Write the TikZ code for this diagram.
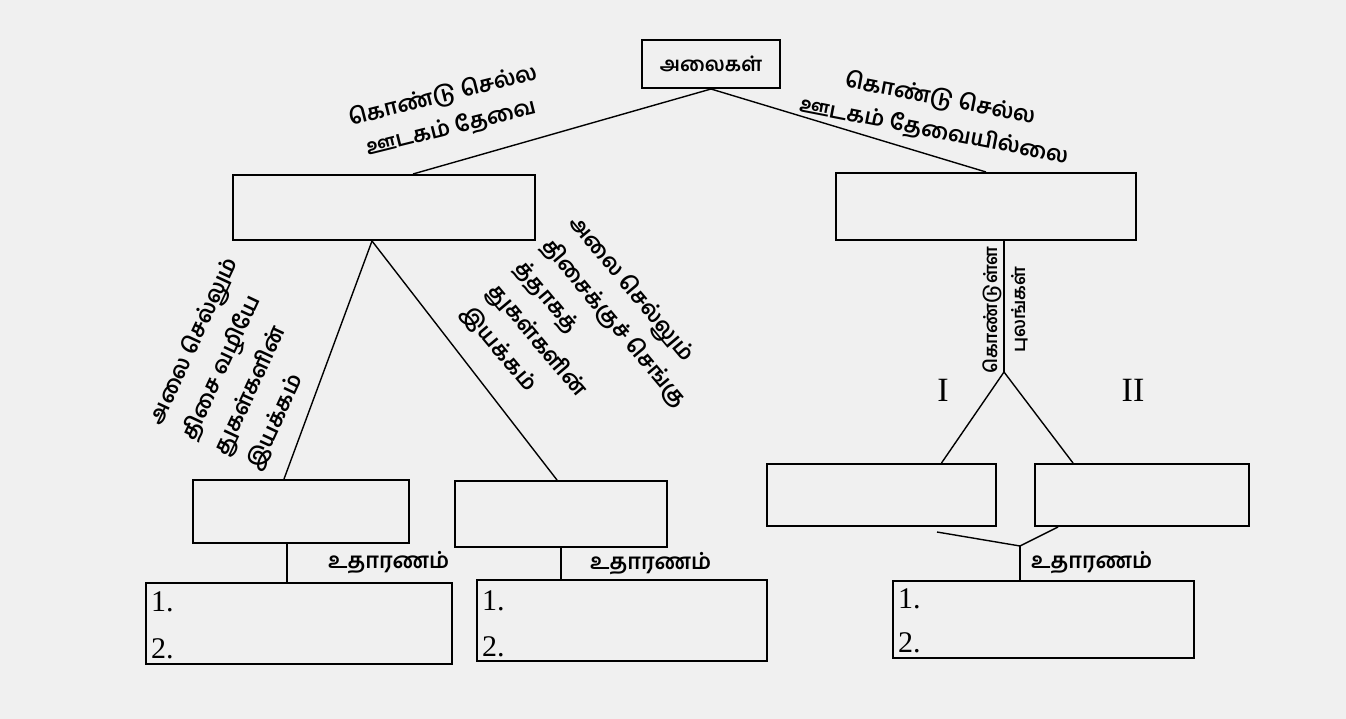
\documentclass[tikz,border=0pt]{standalone}
\usepackage{fontspec}
\setmainfont{Liberation Serif}
\newfontfamily\tam[Script=Tamil]{Hind Madurai}
\usetikzlibrary{calc}
\definecolor{bgc}{HTML}{F0F0F0}
\begin{document}
\begin{tikzpicture}[x=1pt,y=-1pt,
  box/.style={draw, line width=2pt, inner sep=0pt},
  conn/.style={line width=1.4pt},
  tl/.style={font=\tam\bfseries\fontsize{22}{33}\selectfont, inner sep=0pt},
  num/.style={font=\fontsize{30}{30}\selectfont, inner sep=0pt, anchor=west},
  roman/.style={font=\fontsize{34}{34}\selectfont, inner sep=0pt}]
\fill[bgc] (0,0) rectangle (1346,719);
\useasboundingbox (0,0) rectangle (1346,719);
% boxes
\node[box, minimum width=138, minimum height=48, font=\tam\bfseries\fontsize{20}{20}\selectfont] (top) at (711,64) {அலைகள்};
\node[box, minimum width=302, minimum height=65] (L1) at (384,207.5) {};
\node[box, minimum width=300, minimum height=67] (R1) at (986,206.5) {};
\node[box, minimum width=216, minimum height=63] (LL) at (301,511.5) {};
\node[box, minimum width=212, minimum height=66] (LR) at (561,514) {};
\node[box, minimum width=229, minimum height=62] (RL) at (881.5,495) {};
\node[box, minimum width=214, minimum height=62] (RR) at (1142,495) {};
\node[box, minimum width=306, minimum height=81] (LLex) at (299,623.5) {};
\node[box, minimum width=290, minimum height=81] (LRex) at (622,620.5) {};
\node[box, minimum width=301, minimum height=77] (RX) at (1043.5,619.5) {};
% numbers
\node[num] (n1) at ($(LLex.west)+(6,-22)$) {1.};
\node[num] (n2) at ($(LLex.west)+(6,25)$) {2.};
\node[num] (n3) at ($(LRex.west)+(6,-20)$) {1.};
\node[num] (n4) at ($(LRex.west)+(6,26)$) {2.};
\node[num] (n5) at ($(RX.west)+(6,-21)$) {1.};
\node[num] (n6) at ($(RX.west)+(6,23)$) {2.};
% connectors
\coordinate (tl1) at ($(L1.north)+(29,0)$);
\draw[conn] (top.south) -- (tl1);
\draw[conn] (top.south) -- (R1.north);
\coordinate (lb) at ($(L1.south)+(-12,0)$);
\draw[conn] (lb) -- ($(LL.north)+(-17,0)$);
\draw[conn] (lb) -- ($(LR.north)+(-4,0)$);
\coordinate (v1) at ($(LL.south)+(-14,0)$);
\draw[conn] (v1) -- (v1 |- LLex.north);
\draw[conn] (LR.south) -- (LR.south |- LRex.north);
\coordinate (v3) at ($(R1.south)+(18,0)$);
\coordinate (fork) at (1004,372);
\draw[conn] (v3) -- (fork);
\draw[conn] (fork) -- ($(RL.north)+(60,0)$);
\draw[conn] (fork) -- ($(RR.north)+(-69,0)$);
\coordinate (j1) at (937,532);
\coordinate (jn) at (1020,546);
\draw[conn] (j1) -- (jn) -- ($(RR.south west)+(24,0)$);
\draw[conn] (jn) -- (jn |- RX.north);
% labels
\node[tl, align=center, rotate=14] (lab1) at (447,112) {கொண்டு செல்ல\\ஊடகம் தேவை};
\node[tl, align=center, rotate=-11] (lab2) at (937,115) {கொண்டு செல்ல\\ஊடகம் தேவையில்லை};
\node[tl, align=left, rotate=65, anchor=south west, font=\tam\bfseries\fontsize{22}{36}\selectfont] (lab3) at (264,474) {அலை செல்லும்\\திசை வழியே\\துகள்களின்\\இயக்கம்};
\node[tl, align=left, rotate=-50, anchor=north west, font=\tam\bfseries\fontsize{22}{35}\selectfont] (lab4) at (582,212) {அலை செல்லும்\\திசைக்குச் செங்கு\\த்தாகத்\\துகள்களின்\\இயக்கம்};
\node[tl, align=center, rotate=90, font=\tam\bfseries\fontsize{18}{28}\selectfont] (lab5) at (1005,310) {கொண்டுள்ள\\புலங்கள்};
\node[tl, anchor=west] (ex1) at (328,563) {உதாரணம்};
\node[tl, anchor=west] (ex2) at (590,564) {உதாரணம்};
\node[tl, anchor=west] (ex3) at (1031,563) {உதாரணம்};
\node[roman] (r1) at (943,390) {I};
\node[roman] (r2) at (1133,390) {II};
\end{tikzpicture}
\end{document}
